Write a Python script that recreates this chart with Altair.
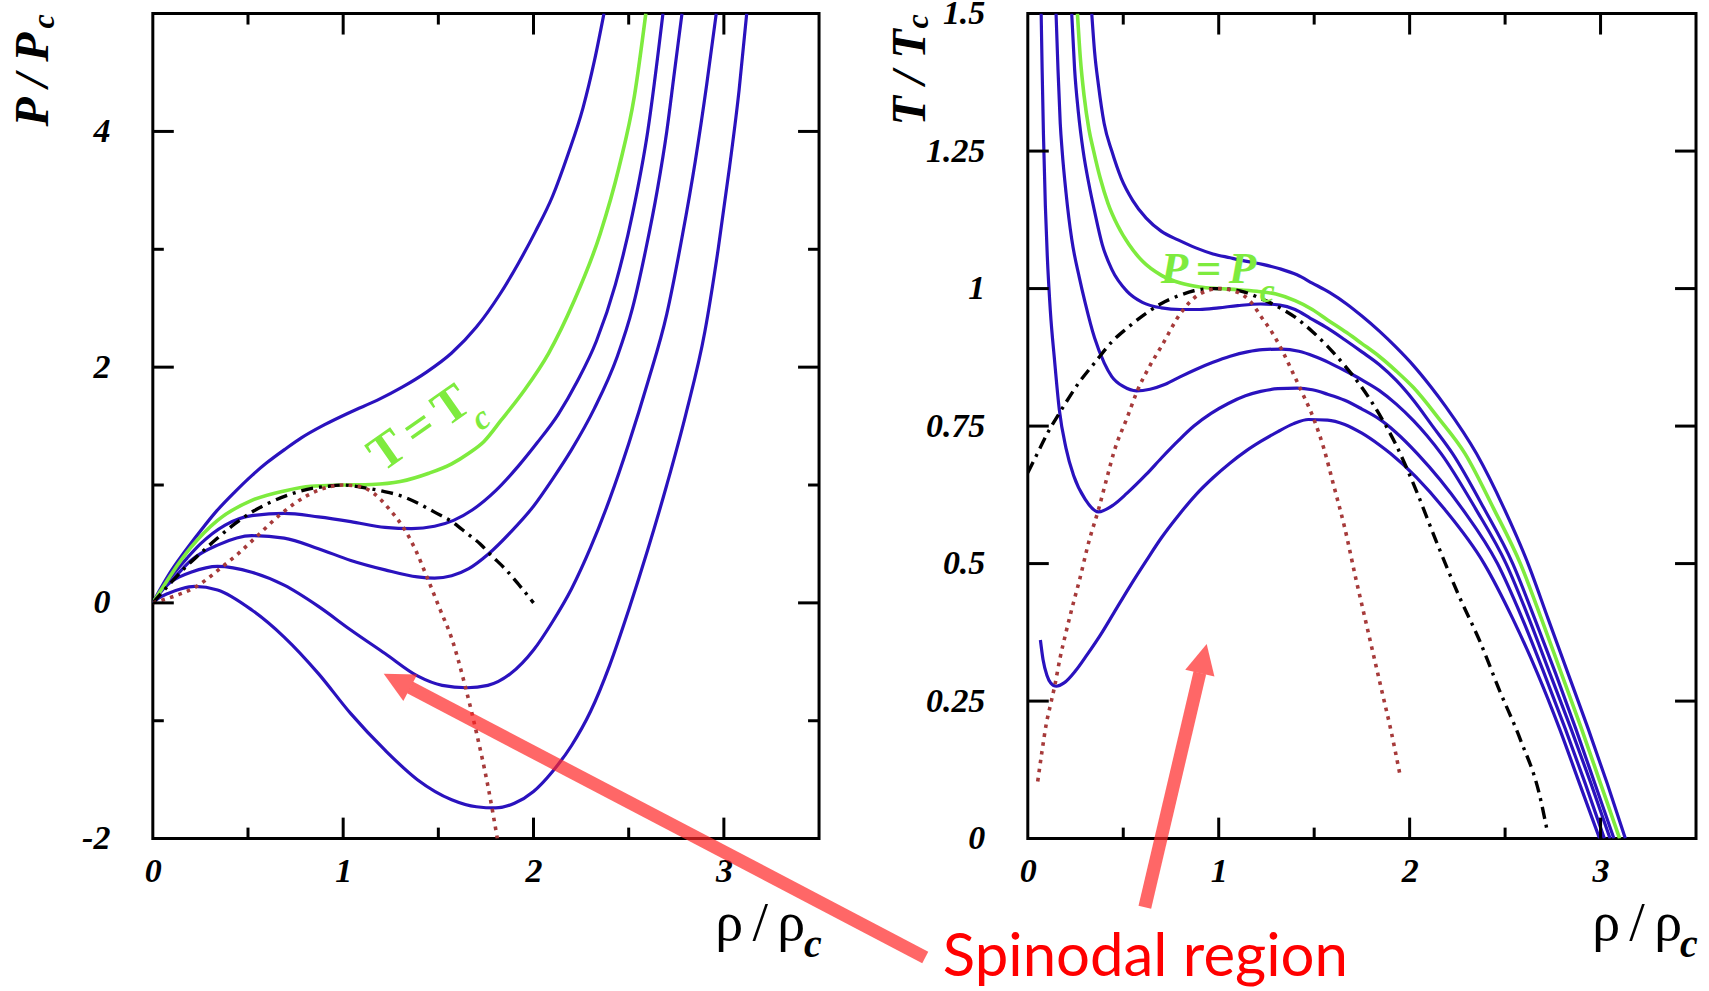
import altair as alt
import pandas as pd

# ---------------- left panel: isotherms, P/Pc against rho/rhoc ----------------
L_RHO_T1 = [0, 0.04, 0.08, 0.17, 0.25, 0.33, 0.43, 0.52, 0.6, 0.7, 0.78, 0.9, 1.04, 1.18, 1.31,
            1.44, 1.57, 1.7, 1.82, 1.92, 2.01, 2.1, 2.18, 2.26, 2.32, 2.37]
L_P_T1 = [0, 0.12, 0.23, 0.44, 0.61, 0.77, 0.94, 1.08, 1.19, 1.31, 1.40, 1.51, 1.62, 1.72, 1.83,
          1.96, 2.12, 2.34, 2.61, 2.88, 3.15, 3.45, 3.8, 4.2, 4.6, 5.0]
L_RHO_TC = [0, 0.04, 0.1, 0.2, 0.34, 0.52, 0.69, 0.83, 1.0, 1.15, 1.3, 1.45, 1.57, 1.66, 1.74,
            1.83, 1.95, 2.08, 2.21, 2.35, 2.45, 2.53, 2.59]
L_P_TC = [0, 0.1, 0.25, 0.47, 0.70, 0.87, 0.95, 0.99, 1.0, 1.005, 1.03, 1.10, 1.18, 1.27, 1.37,
          1.55, 1.80, 2.12, 2.55, 3.13, 3.7, 4.3, 5.0]
L_RHO_T3 = [0, 0.04, 0.1, 0.18, 0.25, 0.38, 0.52, 0.69, 0.87, 1.04, 1.22, 1.36, 1.48, 1.58, 1.68,
            1.8, 1.92, 2.02, 2.13, 2.23, 2.33, 2.43, 2.52, 2.6, 2.68]
L_P_T3 = [0, 0.1, 0.23, 0.38, 0.50, 0.66, 0.74, 0.76, 0.73, 0.69, 0.64, 0.63, 0.65, 0.70, 0.79,
          0.95, 1.16, 1.36, 1.6, 1.88, 2.22, 2.7, 3.3, 4.0, 5.0]
L_RHO_T4 = [0, 0.04, 0.1, 0.2, 0.34, 0.52, 0.69, 0.87, 1.04, 1.22, 1.39, 1.48, 1.57, 1.66, 1.76,
            1.88, 2.0, 2.1, 2.2, 2.32, 2.44, 2.52, 2.59, 2.65, 2.7, 2.74, 2.78]
L_P_T4 = [0, 0.09, 0.19, 0.36, 0.49, 0.57, 0.55, 0.46, 0.36, 0.28, 0.22, 0.21, 0.23, 0.29, 0.41,
          0.6, 0.82, 1.05, 1.3, 1.65, 2.09, 2.5, 3.0, 3.5, 4.0, 4.5, 5.0]
L_RHO_T5 = [0, 0.03, 0.08, 0.14, 0.2, 0.34, 0.52, 0.69, 0.87, 1.04, 1.22, 1.39, 1.52, 1.65, 1.76,
            1.88, 2.0, 2.1, 2.2, 2.3, 2.4, 2.5, 2.6, 2.7, 2.78, 2.85, 2.91, 2.96]
L_P_T5 = [0, 0.07, 0.16, 0.22, 0.26, 0.31, 0.26, 0.15, -0.03, -0.23, -0.43, -0.62, -0.70, -0.72, -0.70,
          -0.60, -0.40, -0.16, 0.12, 0.47, 0.88, 1.35, 1.87, 2.45, 3.1, 3.75, 4.4, 5.0]
L_RHO_T6 = [0, 0.03, 0.08, 0.15, 0.22, 0.34, 0.52, 0.69, 0.87, 1.04, 1.22, 1.39, 1.57, 1.7, 1.8,
            1.9, 2.0, 2.1, 2.2, 2.3, 2.4, 2.5, 2.6, 2.7, 2.8, 2.9, 2.97, 3.03, 3.08, 3.12]
L_P_T6 = [0, 0.04, 0.08, 0.12, 0.14, 0.11, -0.06, -0.29, -0.60, -0.94, -1.25, -1.50, -1.67, -1.73, -1.74,
          -1.70, -1.60, -1.43, -1.21, -0.92, -0.53, -0.06, 0.45, 1.0, 1.6, 2.3, 3.0, 3.7, 4.35, 5.0]
L_RHO_BIN = [0, 0.05, 0.1, 0.17, 0.25, 0.34, 0.43, 0.52, 0.62, 0.72, 0.83, 0.92, 1.0, 1.1, 1.2,
             1.3, 1.4, 1.48, 1.57, 1.65, 1.72, 1.78, 1.85, 1.92, 2.0]
L_P_BIN = [0, 0.09, 0.18, 0.30, 0.42, 0.55, 0.67, 0.77, 0.855, 0.92, 0.97, 0.99, 1.0, 0.98, 0.95,
           0.91, 0.84, 0.77, 0.69, 0.59, 0.5, 0.4, 0.29, 0.16, 0.0]
L_RHO_SPI = [0, 0.1, 0.22, 0.36, 0.45, 0.55, 0.67, 0.81, 0.94, 1.0, 1.08, 1.16, 1.24, 1.32, 1.38,
             1.44, 1.51, 1.57, 1.64, 1.7, 1.76, 1.81]
L_P_SPI = [0, 0.05, 0.13, 0.30, 0.42, 0.57, 0.75, 0.91, 0.99, 1.0, 0.99, 0.93, 0.80, 0.63, 0.45,
           0.22, -0.06, -0.30, -0.70, -1.1, -1.55, -2.0]

# ---------------- right panel: isobars, T/Tc against rho/rhoc ----------------
R_RHO_P1 = [0.335, 0.35, 0.37, 0.4, 0.44, 0.49, 0.55, 0.62, 0.7, 0.79, 0.88, 0.97, 1.06, 1.14, 1.23,
            1.32, 1.41, 1.49, 1.58, 1.67, 1.75, 1.84, 1.93, 2.02, 2.11, 2.19,
            2.35, 2.495, 2.62, 2.725, 2.83, 2.935, 3.035, 3.13]
R_T_P1 = [1.5, 1.43, 1.37, 1.30, 1.25, 1.20, 1.16, 1.128, 1.104, 1.088, 1.074, 1.063, 1.056, 1.05, 1.044,
          1.036, 1.025, 1.01, 0.993, 0.972, 0.95, 0.923, 0.893, 0.86, 0.822, 0.785,
          0.7, 0.6, 0.5, 0.4, 0.3, 0.2, 0.1, 0.0]
R_RHO_PC = [0.26, 0.275, 0.295, 0.32, 0.345, 0.38, 0.42, 0.47, 0.53, 0.6, 0.7, 0.8, 0.9, 1.0, 1.1,
            1.2, 1.3, 1.4, 1.49, 1.57, 1.67, 1.75, 1.84, 1.93, 2.02, 2.15,
            2.29, 2.44, 2.58, 2.69, 2.795, 2.9, 3.0, 3.10]
R_T_PC = [1.5, 1.42, 1.35, 1.29, 1.25, 1.20, 1.155, 1.115, 1.08, 1.05, 1.024, 1.01, 1.003, 1.0, 0.998,
          0.995, 0.99, 0.978, 0.962, 0.943, 0.92, 0.9, 0.877, 0.85, 0.82, 0.765,
          0.7, 0.6, 0.5, 0.4, 0.3, 0.2, 0.1, 0.0]
R_RHO_P3 = [0.23, 0.245, 0.265, 0.29, 0.32, 0.35, 0.39, 0.44, 0.52, 0.6, 0.7, 0.8, 0.9, 1.0, 1.1,
            1.22, 1.32, 1.4, 1.48, 1.57, 1.66, 1.75, 1.84, 1.93, 2.02, 2.12,
            2.225, 2.39, 2.54, 2.655, 2.765, 2.87, 2.97, 3.07]
R_T_P3 = [1.5, 1.40, 1.32, 1.25, 1.19, 1.14, 1.08, 1.035, 0.995, 0.975, 0.965, 0.962, 0.962, 0.965, 0.969,
          0.972, 0.97, 0.962, 0.946, 0.928, 0.907, 0.885, 0.862, 0.833, 0.797, 0.75,
          0.7, 0.6, 0.5, 0.4, 0.3, 0.2, 0.1, 0.0]
R_RHO_P4 = [0.148, 0.158, 0.17, 0.18, 0.2, 0.23, 0.27, 0.3, 0.35, 0.4, 0.44, 0.5, 0.57, 0.64, 0.72,
            0.8, 0.88, 0.97, 1.06, 1.15, 1.23, 1.33, 1.42, 1.5, 1.58, 1.66, 1.75, 1.84, 1.93, 2.02, 2.09,
            2.165, 2.345, 2.505, 2.625, 2.735, 2.845, 2.95, 3.05]
R_T_P4 = [1.5, 1.40, 1.30, 1.25, 1.175, 1.09, 1.02, 0.975, 0.91, 0.865, 0.84, 0.822, 0.814, 0.817, 0.826,
          0.84, 0.853, 0.866, 0.877, 0.885, 0.889, 0.89, 0.886, 0.877, 0.865, 0.851, 0.834, 0.815, 0.79, 0.76, 0.733,
          0.7, 0.6, 0.5, 0.4, 0.3, 0.2, 0.1, 0.0]
R_RHO_P5 = [0.07, 0.075, 0.082, 0.092, 0.102, 0.118, 0.14, 0.165, 0.2, 0.24, 0.3, 0.37, 0.45, 0.52, 0.62,
            0.7, 0.79, 0.87, 0.96, 1.05, 1.14, 1.22, 1.31, 1.41, 1.49, 1.57, 1.66, 1.75, 1.84, 1.93,
            2.04, 2.275, 2.46, 2.59, 2.705, 2.815, 2.92, 3.02]
R_T_P5 = [1.5, 1.40, 1.28, 1.15, 1.06, 0.96, 0.87, 0.78, 0.71, 0.66, 0.617, 0.594, 0.607, 0.628, 0.662,
          0.692, 0.724, 0.75, 0.773, 0.791, 0.805, 0.813, 0.818, 0.819, 0.816, 0.808, 0.797, 0.781, 0.763, 0.738,
          0.7, 0.6, 0.5, 0.4, 0.3, 0.2, 0.1, 0.0]
R_RHO_P6 = [0.066, 0.08, 0.1, 0.12, 0.15, 0.19, 0.25, 0.31, 0.38, 0.45, 0.53, 0.62, 0.7, 0.79, 0.88,
            0.97, 1.06, 1.14, 1.22, 1.31, 1.39, 1.47, 1.57, 1.66, 1.75, 1.84,
            1.9, 2.18, 2.39, 2.54, 2.67, 2.785, 2.89, 2.995]
R_T_P6 = [0.361, 0.325, 0.297, 0.283, 0.277, 0.283, 0.305, 0.334, 0.37, 0.41, 0.456, 0.505, 0.547, 0.588, 0.625,
          0.656, 0.683, 0.704, 0.722, 0.74, 0.754, 0.762, 0.761, 0.753, 0.737, 0.716,
          0.7, 0.6, 0.5, 0.4, 0.3, 0.2, 0.1, 0.0]
R_RHO_BIN = [0.0, 0.05, 0.1, 0.175, 0.27, 0.35, 0.445, 0.52, 0.62, 0.7, 0.79, 0.87, 0.97, 1.05, 1.14,
             1.22, 1.32, 1.4, 1.49, 1.57, 1.66, 1.75, 1.84, 1.93, 2.02, 2.14, 2.26, 2.37, 2.47, 2.58, 2.68, 2.72]
R_T_BIN = [0.665, 0.70, 0.735, 0.779, 0.83, 0.865, 0.905, 0.928, 0.955, 0.973, 0.987, 0.996, 1.0, 0.999, 0.993,
           0.982, 0.965, 0.948, 0.922, 0.895, 0.86, 0.82, 0.772, 0.715, 0.645, 0.54, 0.44, 0.357, 0.27, 0.18, 0.08, 0.015]
R_RHO_SPI = [0.052, 0.075, 0.096, 0.12, 0.14, 0.17, 0.2, 0.24, 0.27, 0.32, 0.37, 0.41, 0.454, 0.52, 0.576,
             0.64, 0.7, 0.8, 0.9, 1.0, 1.1, 1.17, 1.22, 1.28, 1.33, 1.38, 1.43, 1.5, 1.55, 1.6,
             1.66, 1.72, 1.77, 1.81, 1.86, 1.9, 1.95]
R_T_SPI = [0.104, 0.16, 0.207, 0.245, 0.276, 0.33, 0.375, 0.43, 0.469, 0.54, 0.598, 0.65, 0.706, 0.765, 0.816,
           0.86, 0.895, 0.955, 0.99, 1.0, 0.993, 0.975, 0.95, 0.92, 0.889, 0.853, 0.816, 0.761, 0.71, 0.645,
           0.565, 0.47, 0.395, 0.335, 0.26, 0.2, 0.115]

# ---------------- ticks and tick labels ----------------
X_LABELS = [0, 1, 2, 3]
X_MAJOR = [1, 2, 3]
X_MINOR = [0.5, 1.5, 2.5]
L_Y_LABELS = [-2, 0, 2, 4]
L_Y_MAJOR = [0, 2, 4]
L_Y_MINOR = [-1, 1, 3]
R_Y_LABELS = [0, 0.25, 0.5, 0.75, 1, 1.25, 1.5]
R_Y_MAJOR = [0.25, 0.5, 0.75, 1, 1.25]

# ---------------- annotations (data units of each panel) ----------------
L_CURVE_LABEL = {"rho": [1.40], "v": [1.48], "t": ["T\u2006=\u2006T"]}
L_CURVE_SUB = {"rho": [1.725], "v": [1.56], "t": ["c"]}
R_CURVE_LABEL = {"rho": [0.696], "v": [1.011], "t": ["P\u2006=\u2006P"]}
R_CURVE_SUB = {"rho": [1.215], "v": [0.975], "t": ["c"]}
L_ARROW = {"rho": [4.058], "v": [-3.008], "rho2": [1.352], "v2": [-0.719]}
L_ARROW_TIP = {"rho": [1.213], "v": [-0.602]}
R_ARROW = {"rho": [0.613], "v": [-0.125], "rho2": [0.901], "v2": [0.301]}
R_ARROW_TIP = {"rho": [0.937], "v": [0.354]}
SPINODAL_TEXT = {"rho": [-0.445], "v": [-0.249], "t": ["Spinodal region"]}

SERIF = "Liberation Serif"
BLUE = "#2A12BE"
GREEN = "#7EEB3E"
DOT_RED = "#A63A3A"
ARROW_RED = "#FF2626"
ARROW_PATH = "M0,0L0.8,1.6L-0.8,1.6Z"
WL, WR, H = 667, 669, 826


def long_df(named):
    rows = []
    for name, xs, ys in named:
        for i, (a, b) in enumerate(zip(xs, ys)):
            rows.append({"curve": name, "i": i, "rho": a, "v": b})
    return pd.DataFrame(rows)


def label_axis(values, padding):
    return alt.Axis(values=values, labelExpr="'' + datum.value", title=None,
                    ticks=False, tickSize=0, domain=False, grid=False,
                    labelFont=SERIF, labelFontSize=34, labelFontWeight="bold",
                    labelFontStyle="italic", labelColor="black",
                    labelPadding=padding, labelFlush=False, labelOverlap=False)


def fixed_text(text, x, y, size, weight="bold", style="italic", angle=0, font=SERIF):
    return alt.Chart(pd.DataFrame({"t": [text]})).mark_text(
        align="left", baseline="alphabetic", font=font, fontSize=size,
        fontWeight=weight, fontStyle=style, angle=angle, color="black"
    ).encode(x=alt.value(x), y=alt.value(y), text="t:N")


def build_panel(W, xs, ys, xa, ya, blue, green, binod, spin, ymaj, ymin, extras):
    enc = dict(x=alt.X("rho:Q", scale=xs, axis=xa), y=alt.Y("v:Q", scale=ys, axis=ya),
               detail="curve:N", order="i:Q")
    layers = [
        alt.Chart(long_df(blue)).mark_line(color=BLUE, strokeWidth=3.2, interpolate="monotone", clip=True).encode(**enc),
        alt.Chart(long_df(green)).mark_line(color=GREEN, strokeWidth=3.6, interpolate="monotone", clip=True).encode(**enc),
        alt.Chart(long_df(binod)).mark_line(color="black", strokeWidth=3.4, strokeDash=[12, 6, 3, 6],
                                            interpolate="monotone", clip=True).encode(**enc),
        alt.Chart(long_df(spin)).mark_line(color=DOT_RED, strokeWidth=3.6, strokeDash=[3.6, 5.4],
                                           interpolate="monotone", clip=True).encode(**enc),
    ]
    for vals, ln in ((X_MAJOR, 21), (X_MINOR, 11)):
        d = pd.DataFrame({"t": vals})
        layers.append(alt.Chart(d).mark_rule(color="black", strokeWidth=3).encode(
            x=alt.X("t:Q", scale=xs, axis=xa), y=alt.value(H), y2=alt.value(H - ln)))
        layers.append(alt.Chart(d).mark_rule(color="black", strokeWidth=3).encode(
            x=alt.X("t:Q", scale=xs, axis=xa), y=alt.value(0), y2=alt.value(ln)))
    for vals, ln in ((ymaj, 21), (ymin, 11)):
        if not vals:
            continue
        d = pd.DataFrame({"t": vals})
        layers.append(alt.Chart(d).mark_rule(color="black", strokeWidth=3).encode(
            y=alt.Y("t:Q", scale=ys, axis=ya), x=alt.value(0), x2=alt.value(ln)))
        layers.append(alt.Chart(d).mark_rule(color="black", strokeWidth=3).encode(
            y=alt.Y("t:Q", scale=ys, axis=ya), x=alt.value(W), x2=alt.value(W - ln)))
    layers.extend(extras(xs, ys, xa, ya))
    return alt.layer(*layers).properties(width=W, height=H)


def data_text(d, xs, ys, xa, ya, **mk):
    return alt.Chart(pd.DataFrame(d)).mark_text(**mk).encode(
        x=alt.X("rho:Q", scale=xs, axis=xa), y=alt.Y("v:Q", scale=ys, axis=ya), text="t:N")


def arrow(shaft, tip, angle, xs, ys, xa, ya):
    return [
        alt.Chart(pd.DataFrame(shaft)).mark_rule(color=ARROW_RED, strokeWidth=13, opacity=0.7).encode(
            x=alt.X("rho:Q", scale=xs, axis=xa), y=alt.Y("v:Q", scale=ys, axis=ya),
            x2="rho2:Q", y2="v2:Q"),
        alt.Chart(pd.DataFrame(tip)).mark_point(shape=ARROW_PATH, filled=True, size=1406, angle=angle,
                                                color=ARROW_RED, opacity=0.7, strokeWidth=0).encode(
            x=alt.X("rho:Q", scale=xs, axis=xa), y=alt.Y("v:Q", scale=ys, axis=ya)),
    ]


RHO_TITLE = "\u03c1\u2006/\u2006\u03c1"


def anchor(x):
    # invisible vertical rule that fixes the outer bounds of the whole figure
    return alt.Chart(pd.DataFrame({"a": [0]})).mark_rule(strokeOpacity=0, strokeWidth=1).encode(
        x=alt.value(x), y=alt.value(-29.5), y2=alt.value(989.5))


def left_extras(xs, ys, xa, ya):
    return [
        data_text(L_CURVE_LABEL, xs, ys, xa, ya, font=SERIF, fontSize=50, fontWeight="bold",
                  color=GREEN, angle=325, align="center", baseline="middle"),
        data_text(L_CURVE_SUB, xs, ys, xa, ya, font=SERIF, fontSize=34, fontWeight="bold",
                  fontStyle="italic", color=GREEN, angle=325, align="center", baseline="middle"),
        fixed_text("P / P", -105, 113, 48, angle=270),
        fixed_text("c", -99, 15, 32, angle=270),
        fixed_text(RHO_TITLE, 563, 928, 56, weight="normal", style="normal"),
        fixed_text("c", 652, 945, 40),
        *arrow(L_ARROW, L_ARROW_TIP, 297.6, xs, ys, xa, ya),
        anchor(-151.5),
    ]


def right_extras(xs, ys, xa, ya):
    return [
        data_text(R_CURVE_LABEL, xs, ys, xa, ya, font=SERIF, fontSize=45, fontWeight="bold",
                  fontStyle="italic", color=GREEN, align="left", baseline="alphabetic"),
        data_text(R_CURVE_SUB, xs, ys, xa, ya, font=SERIF, fontSize=34, fontWeight="bold",
                  fontStyle="italic", color=GREEN, align="left", baseline="alphabetic"),
        fixed_text("T / T", -103, 112, 48, angle=270),
        fixed_text("c", -100, 15, 32, angle=270),
        fixed_text(RHO_TITLE, 565, 928, 56, weight="normal", style="normal"),
        fixed_text("c", 653, 945, 40),
        *arrow(R_ARROW, R_ARROW_TIP, 13.2, xs, ys, xa, ya),
        data_text(SPINODAL_TEXT, xs, ys, xa, ya, font="Lato", fontSize=60, color="#FF0000",
                  align="left", baseline="alphabetic"),
        anchor(WR + 11.5),
    ]


xs_l = alt.Scale(domain=[0, 3.5], nice=False, zero=False)
ys_l = alt.Scale(domain=[-2, 5], nice=False, zero=False)
xs_r = alt.Scale(domain=[0, 3.5], nice=False, zero=False)
ys_r = alt.Scale(domain=[0, 1.5], nice=False, zero=False)

left = build_panel(
    WL, xs_l, ys_l, label_axis(X_LABELS, 16), label_axis(L_Y_LABELS, 43),
    [("t1", L_RHO_T1, L_P_T1), ("t3", L_RHO_T3, L_P_T3), ("t4", L_RHO_T4, L_P_T4),
     ("t5", L_RHO_T5, L_P_T5), ("t6", L_RHO_T6, L_P_T6)],
    [("tc", L_RHO_TC, L_P_TC)],
    [("bin", L_RHO_BIN, L_P_BIN)],
    [("spi", L_RHO_SPI, L_P_SPI)],
    L_Y_MAJOR, L_Y_MINOR, left_extras)

right = build_panel(
    WR, xs_r, ys_r, label_axis(X_LABELS, 16), label_axis(R_Y_LABELS, 43),
    [("p1", R_RHO_P1, R_T_P1), ("p3", R_RHO_P3, R_T_P3), ("p4", R_RHO_P4, R_T_P4),
     ("p5", R_RHO_P5, R_T_P5), ("p6", R_RHO_P6, R_T_P6)],
    [("pc", R_RHO_PC, R_T_PC)],
    [("bin", R_RHO_BIN, R_T_BIN)],
    [("spi", R_RHO_SPI, R_T_SPI)],
    R_Y_MAJOR, [], right_extras)

chart = alt.hconcat(left, right, spacing=209, bounds="flush").properties(
    padding={"left": 0, "top": -18, "right": 0, "bottom": -11}, background="white"
).configure_view(stroke="black", strokeWidth=3)

chart.save("out.html", embed_options={"renderer": "svg", "actions": False})
